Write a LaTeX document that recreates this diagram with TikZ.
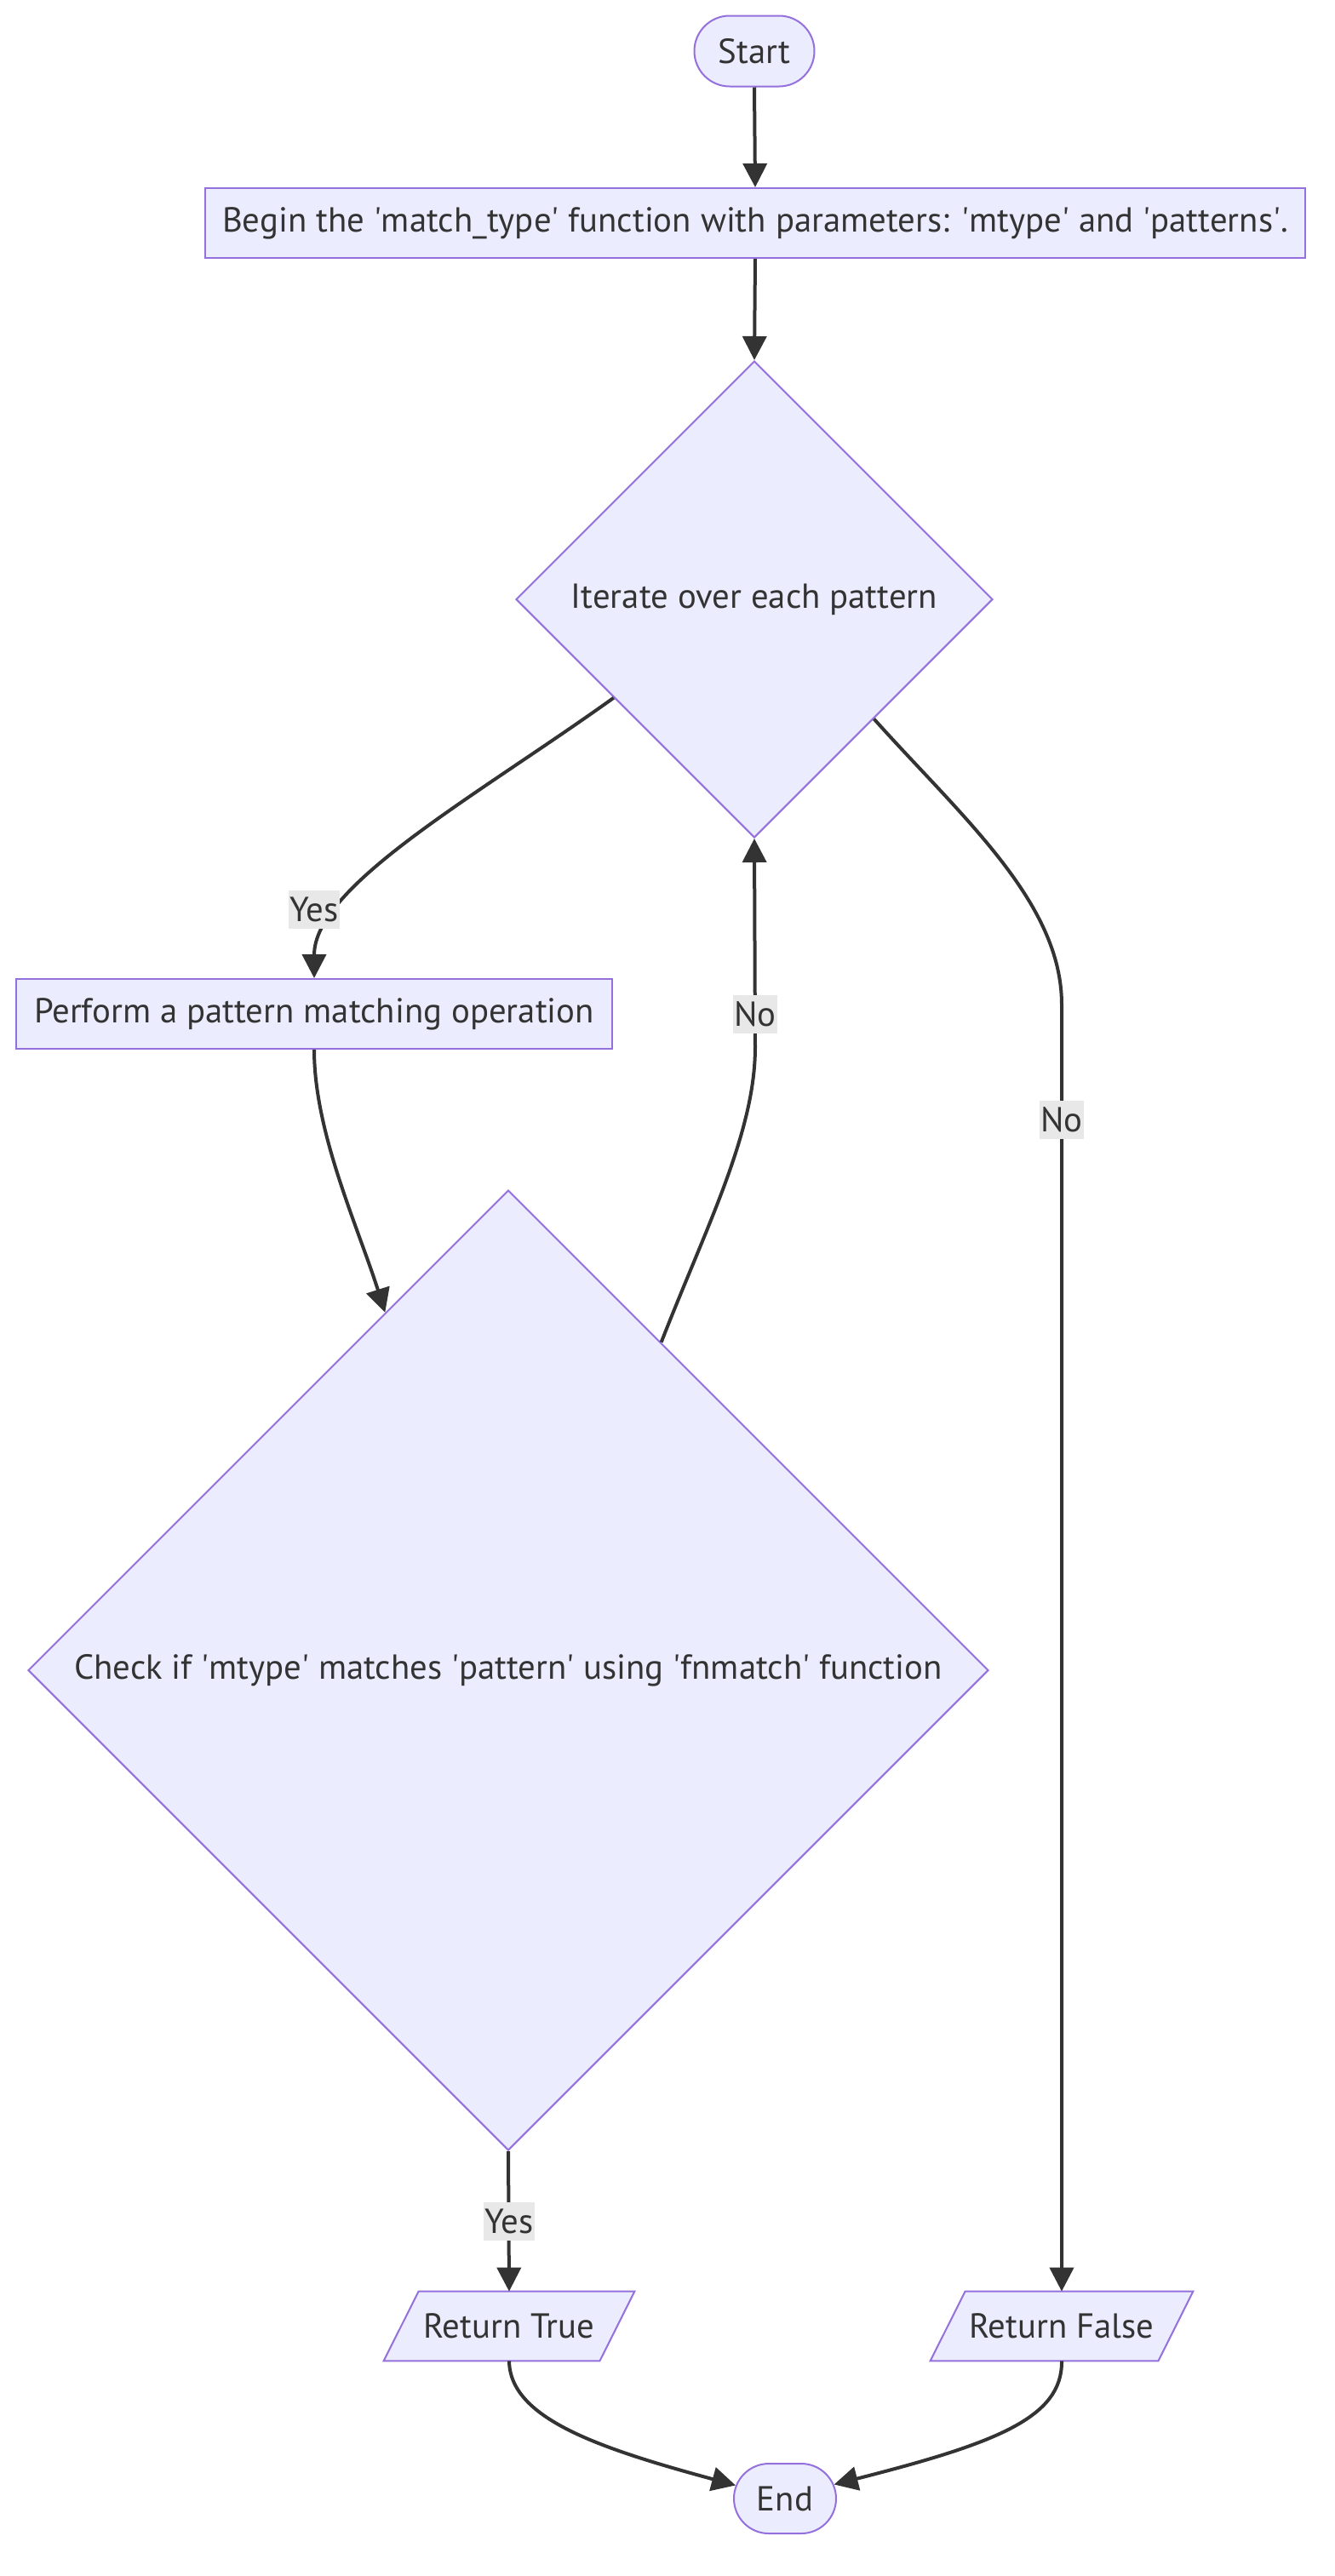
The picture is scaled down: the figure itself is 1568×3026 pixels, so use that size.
\documentclass[tikz,border=0pt]{standalone}
\usepackage{fontspec}
\setmainfont{PT Sans}
\usetikzlibrary{arrows.meta,shapes.geometric,shapes.misc,backgrounds}
\definecolor{nodefill}{HTML}{ECECFF}
\definecolor{nodeline}{HTML}{9370DB}
\definecolor{edgecol}{HTML}{333333}
\definecolor{lblbg}{HTML}{E8E8E8}
\newcommand\squo{\textquotesingle}
\begin{document}
\begin{tikzpicture}[x=0.5pt,y=-0.5pt,
  font=\fontsize{20.4}{24}\selectfont, text=edgecol,
  base/.style={draw=nodeline, fill=nodefill, line width=1pt, inner sep=0pt},
  proc/.style={base, rectangle, minimum height=41pt},
  term/.style={base, rounded rectangle, minimum height=41.5pt},
  dec/.style={base, diamond, aspect=1},
  io/.style={inner sep=0pt, minimum height=40.5pt},
  iobox/.style={draw=nodeline, fill=nodefill, line width=1pt},
  edge/.style={draw=edgecol, line width=2pt, -{Triangle[length=14pt,width=14pt]}},
  lbl/.style={fill=lblbg, inner xsep=0.5pt, inner ysep=0pt, minimum height=22.5pt, text=edgecol}
]
\useasboundingbox (0,0) rectangle (1568,3026);

% nodes
\node[term, minimum width=70.5pt] (start) at (886,60) {Start};
\node[proc, minimum width=646pt] (begin) at (887,262) {Begin the \squo match\_type\squo{} function with parameters: \squo mtype\squo{} and \squo patterns\squo.};
\node[dec, minimum width=280pt, minimum height=280pt] (d1) at (886,704) {Iterate over each pattern};
\node[proc, minimum width=350pt] (perf) at (369,1191) {Perform a pattern matching operation};
\node[dec, minimum width=564pt, minimum height=564pt] (d2) at (597,1962) {Check if \squo mtype\squo{} matches \squo pattern\squo{} using \squo fnmatch\squo{} function};
\node[io, minimum width=126.5pt] (rt) at (598,2732.5) {Return True};
\node[io, minimum width=133.5pt] (rf) at (1247,2732.5) {Return False};
\node[term, minimum width=60pt, minimum height=41pt] (en) at (922,2935) {End};

\begin{scope}[on background layer]
\draw[iobox] ([xshift=10.25pt]rt.north west) -- ([xshift=10.25pt]rt.north east) -- ([xshift=-10.25pt]rt.south east) -- ([xshift=-10.25pt]rt.south west) -- cycle;
\draw[iobox] ([xshift=10.25pt]rf.north west) -- ([xshift=10.25pt]rf.north east) -- ([xshift=-10.25pt]rf.south east) -- ([xshift=-10.25pt]rf.south west) -- cycle;
\end{scope}

% edges
\path[edge] (start.south) -- (begin.north);
\path[edge] (begin.south) -- (d1.north);
\path[edge] (d1.215) .. controls (560,935) and (369,1040) .. (perf.north);
\path[edge] (perf.south) .. controls (369,1330) and (420,1440) .. (d2.109.4);
\path[edge] (d2.65.7) .. controls (830,1440) and (887,1330) .. (887,1230) -- (d1.south);
\path[edge] (d1.315) .. controls (1130,960) and (1247,1060) .. (1247,1180) -- (rf.north);
\path[edge] (d2.south) -- (rt.north);
\path[edge] (rt.south) .. controls (599,2840) and (700,2875) .. (en.165);
\path[edge] (rf.south) .. controls (1248,2840) and (1170,2870) .. (en.16);

% labels
\node[lbl] (l1) at (369,1068) {Yes};
\node[lbl] (l2) at (887,1191) {No};
\node[lbl] (l3) at (1247,1315) {No};
\node[lbl] (l4) at (598,2609) {Yes};
\end{tikzpicture}
\end{document}
